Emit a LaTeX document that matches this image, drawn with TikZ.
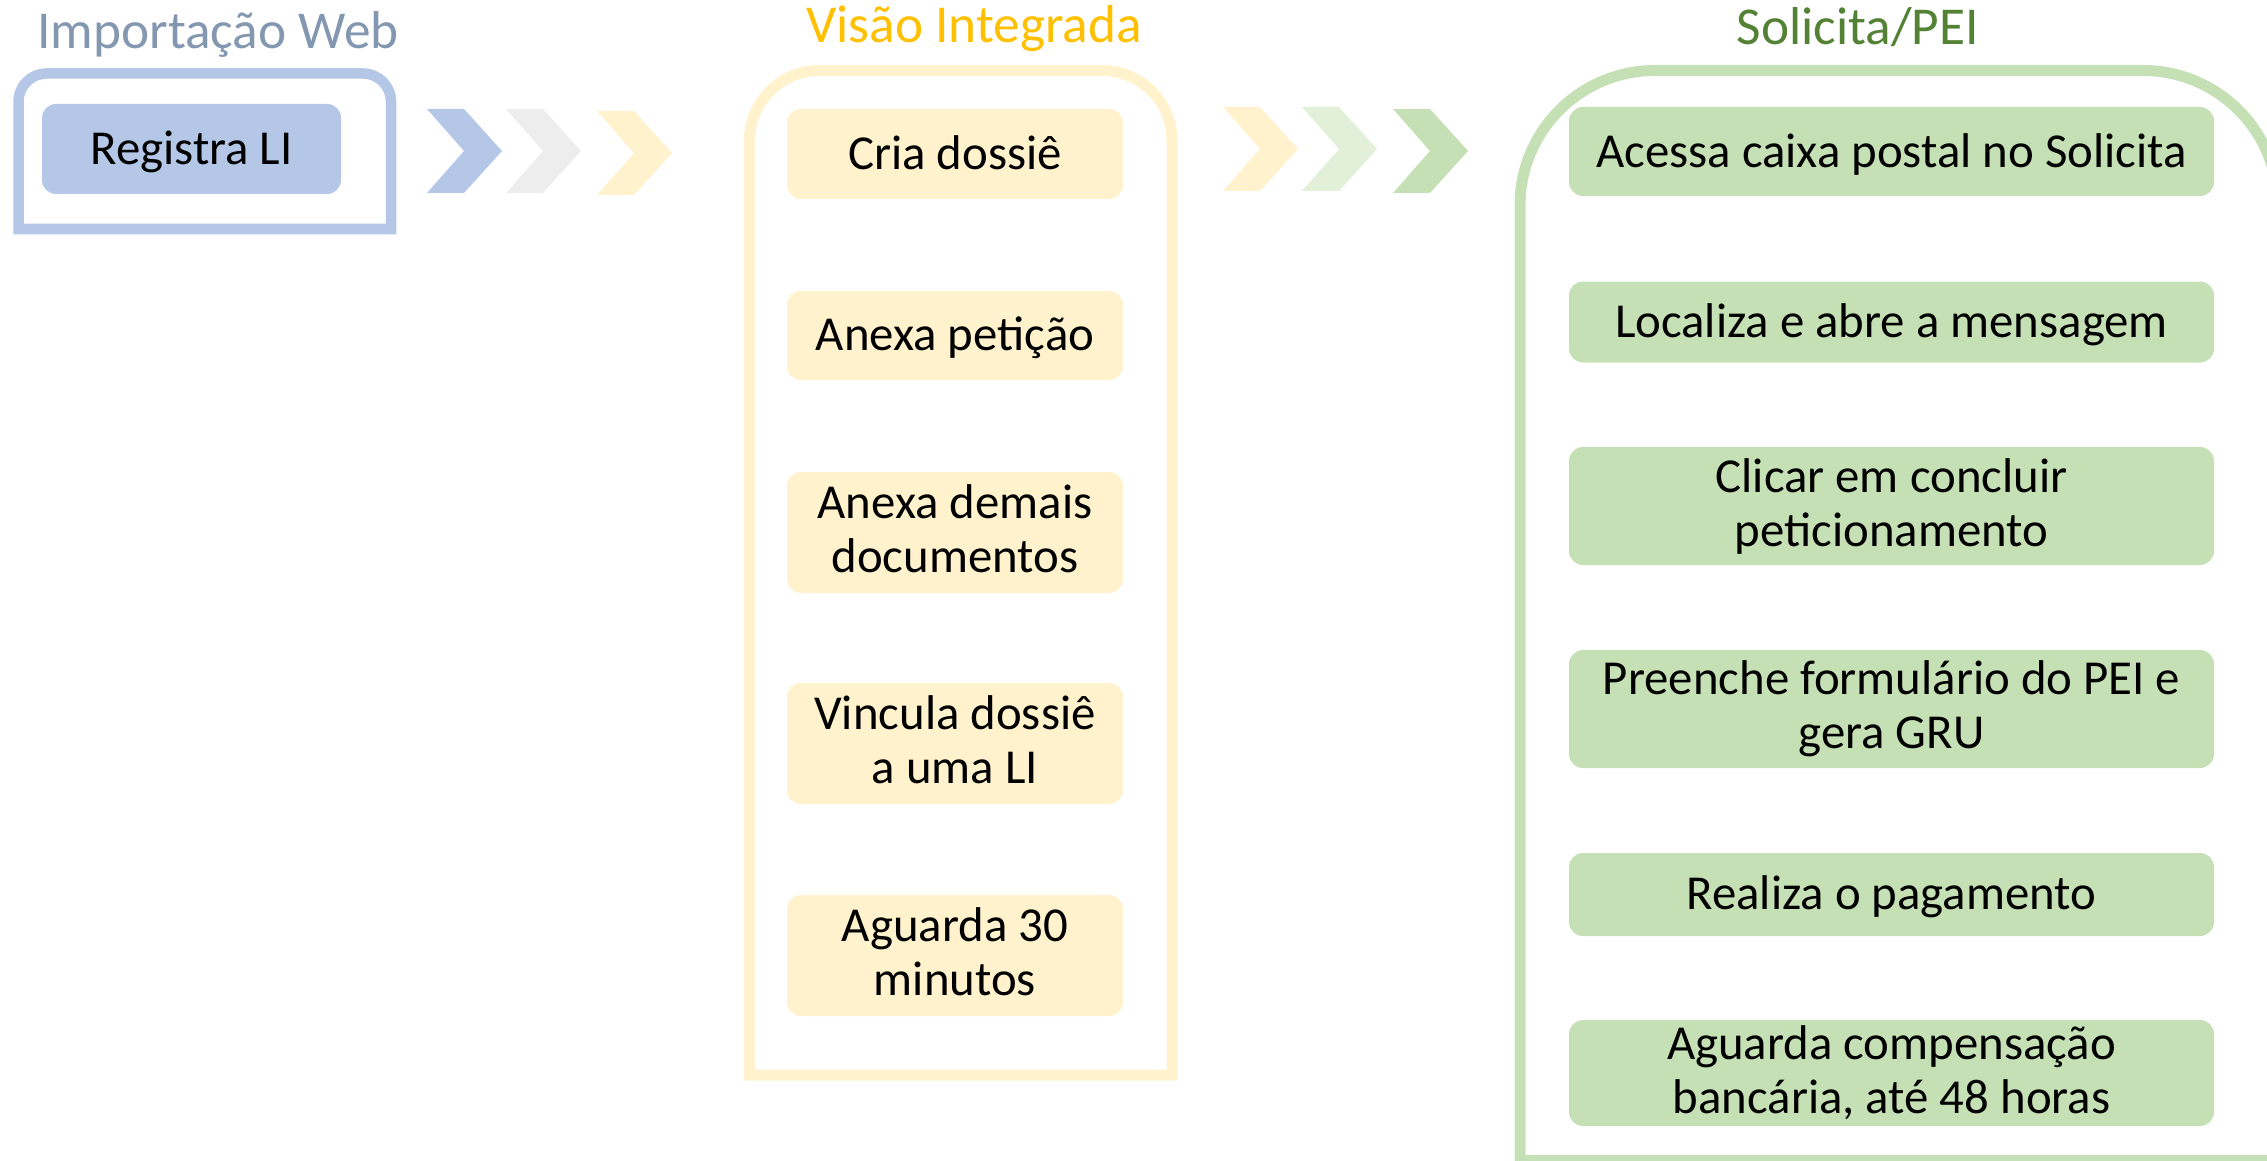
\documentclass[tikz,border=0pt]{standalone}
\usepackage{fontspec}
\setmainfont{Carlito}
\definecolor{tblue}{HTML}{8497B0}
\definecolor{tyellow}{HTML}{FFC000}
\definecolor{tgreen}{HTML}{548235}
\definecolor{fblue}{HTML}{B4C7E7}
\definecolor{fyellow}{HTML}{FFF2CC}
\definecolor{fgrey}{HTML}{EDEDED}
\definecolor{flgreen}{HTML}{E2F0D9}
\definecolor{fgreen}{HTML}{C5E0B4}
\newcommand\boxfont{\fontsize{48.8}{54}\selectfont}
\newcommand\titlefont{\fontsize{53.3}{63}\selectfont}
\newcommand\mystrut{\rule[-0.16em]{0pt}{0.96em}}
\newcommand\chev[3]{\fill[#1] (#2,#3) -- ++(37,0) -- ++(38,42) -- ++(-38,42) -- ++(-37,0) -- ++(37,-42) -- cycle;}
\tikzset{
  stepbox/.style={rounded corners=14pt, inner sep=0pt, align=center, font=\boxfont, text=black,
    execute at begin node=\mystrut, execute at end node=\mystrut},
  bluebox/.style={stepbox, fill=fblue},
  yelbox/.style={stepbox, fill=fyellow, minimum width=336pt},
  grnbox/.style={stepbox, fill=fgreen, minimum width=645pt},
  ttl/.style={font=\titlefont, anchor=base, inner sep=0pt},
  frame/.style={line join=miter}
}
\begin{document}
\begin{tikzpicture}[x=1pt,y=-1pt]
\useasboundingbox (0,0) rectangle (2267,1161);
\clip (0,0) rectangle (2267,1161);

% titles
\node[ttl, text=tblue] (timp) at (218,49) {Importação Web};
\node[ttl, text=tyellow] (tvis) at (974,43) {Visão Integrada};
\node[ttl, text=tgreen] (tsol) at (1858,45) {Solicita/PEI};

% containers
\draw[frame, fblue, line width=10.5pt] (18.5,229) -- (18.5,101.5) arc (180:270:28) -- (363,73.5) arc (270:360:28) -- (391,229) -- cycle;
\draw[frame, fyellow, line width=11pt] (749.5,1075) -- (749.5,140.5) arc (180:270:70) -- (1102,70.5) arc (270:360:70) -- (1172,1075) -- cycle;
\draw[frame, fgreen, line width=11pt] (1520,1160.5) -- (1520,205.5) arc (180:270:135) -- (2143,70.5) arc (270:360:135) -- (2278,1160.5) -- cycle;

% chevrons
\chev{fblue}{427}{109}
\chev{fgrey}{506}{109}
\chev{fyellow}{597}{111}
\chev{fyellow}{1223}{107}
\chev{flgreen}{1302}{107}
\chev{fgreen}{1393}{109}

% Importacao Web
\node[bluebox, minimum width=299pt, minimum height=90pt] (r1) at (191.5,149) {Registra LI};

% Visao Integrada
\node[yelbox, minimum height=90pt]  (y1) at (955,154)   {Cria dossiê};
\node[yelbox, minimum height=89pt]  (y2) at (955,335.5) {Anexa petição};
\node[yelbox, minimum height=121pt] (y3) at (955,532.5) {Anexa demais\\documentos};
\node[yelbox, minimum height=121pt] (y4) at (955,743.5) {Vincula dossiê\\a uma LI};
\node[yelbox, minimum height=121pt] (y5) at (955,955.5) {Aguarda 30\\minutos};

% Solicita/PEI
\node[grnbox, minimum height=89pt]  (g1) at (1891.5,151.5) {Acessa caixa postal no Solicita};
\node[grnbox, minimum height=81pt]  (g2) at (1891.5,322)   {Localiza e abre a mensagem};
\node[grnbox, minimum height=118pt] (g3) at (1891.5,506)   {Clicar em concluir\\peticionamento};
\node[grnbox, minimum height=118pt] (g4) at (1891.5,709)   {Preenche formulário do PEI e\\gera GRU};
\node[grnbox, minimum height=83pt]  (g5) at (1891.5,894.5) {Realiza o pagamento};
\node[grnbox, minimum height=106pt] (g6) at (1891.5,1073)  {Aguarda compensação\\bancária, até 48 horas};
\end{tikzpicture}
\end{document}
